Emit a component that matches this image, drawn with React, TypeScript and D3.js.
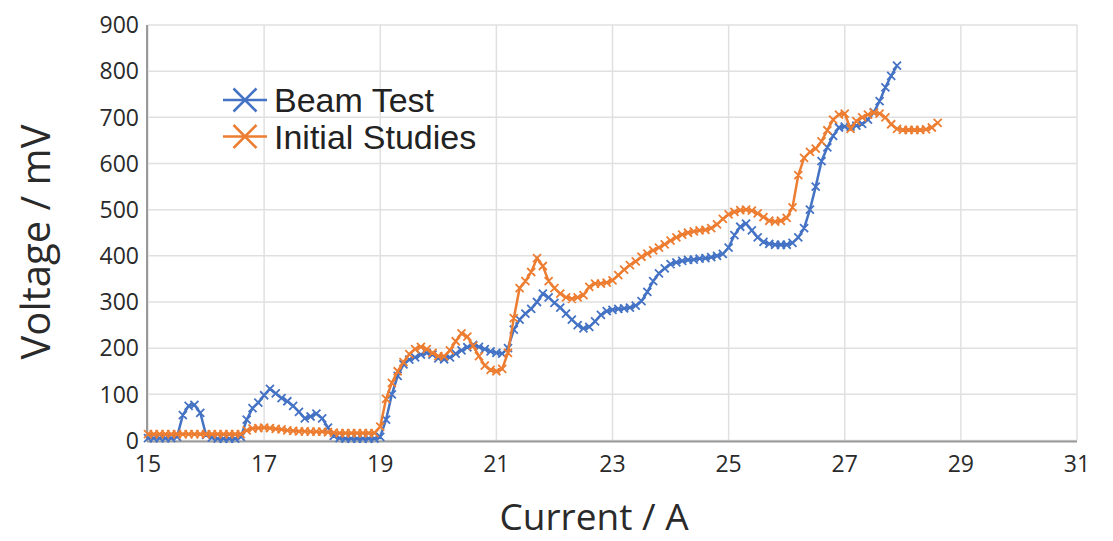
import React from "react";
import * as d3 from "d3";

const X_START = 15.0;
const X_STEP = 0.1;

// Beam Test voltages (mV), sampled every 0.1 A from 15.0 A
const beamTest: number[] = [
  5, 5, 5, 5, 5, 8, 55, 75, 77, 60,
  12, 6, 4, 4, 4, 4, 8, 45, 70, 82,
  98, 112, 102, 92, 85, 75, 62, 48, 52, 58,
  48, 28, 10, 5, 4, 4, 4, 4, 4, 4,
  8, 45, 100, 140, 165, 175, 180, 186, 190, 186,
  178, 176, 180, 188, 195, 202, 207, 203, 198, 193,
  190, 188, 200, 240, 262, 275, 285, 300, 318, 310,
  298, 288, 275, 262, 250, 243, 246, 258, 272, 280,
  283, 285, 286, 288, 292, 302, 322, 345, 362, 373,
  382, 386, 389, 391, 392, 394, 395, 397, 400, 404,
  418, 445, 463, 470, 455, 440, 430, 426, 424, 424,
  424, 428, 440, 460, 500, 550, 605, 635, 660, 678,
  680, 680, 682, 686, 695, 711, 735, 765, 790, 812,
];

// Initial Studies voltages (mV), sampled every 0.1 A from 15.0 A
const initialStudies: number[] = [
  14, 14, 14, 14, 14, 14, 14, 14, 14, 14,
  14, 14, 14, 14, 14, 14, 14, 22, 26, 27,
  28, 27, 25, 24, 22, 21, 20, 20, 19, 19,
  19, 18, 17, 16, 16, 16, 16, 16, 16, 16,
  30, 90, 125, 150, 170, 187, 198, 203, 198, 190,
  183, 182, 195, 215, 232, 225, 205, 183, 162, 153,
  150, 155, 190, 265, 330, 345, 365, 395, 378, 345,
  330, 318, 310, 307, 310, 315, 333, 340, 340, 342,
  347, 358, 370, 380, 388, 398, 405, 412, 418, 425,
  433, 440, 446, 450, 453, 455, 456, 460, 468, 480,
  490, 495, 499, 500, 498, 492, 484, 476, 474, 476,
  482, 505, 575, 612, 625, 632, 648, 672, 695, 706,
  708, 675, 692, 700, 706, 710, 708, 700, 685, 675,
  673, 673, 673, 673, 674, 678, 688,
];

const xTicks = [15, 17, 19, 21, 23, 25, 27, 29, 31];
const yTicks = [0, 100, 200, 300, 400, 500, 600, 700, 800, 900];

const seriesNames = ["Beam Test", "Initial Studies"];
const seriesColors = ["#4472c4", "#ed7d31"];

const W = 1113;
const H = 541;
const plot = { left: 148, right: 1077, top: 25, bottom: 440.5 };

function toPoints(values: number[]) {
  return values.map((v, i) => ({ x: +(X_START + i * X_STEP).toFixed(1), y: v }));
}

function xPath(cx: number, cy: number, s: number) {
  return `M${cx - s},${cy - s}L${cx + s},${cy + s}M${cx - s},${cy + s}L${cx + s},${cy - s}`;
}

export default function App() {
  const x = d3.scaleLinear().domain([15, 31]).range([plot.left, plot.right]);
  const y = d3.scaleLinear().domain([0, 900]).range([plot.bottom, plot.top]);
  const line = d3
    .line<{ x: number; y: number }>()
    .x((d) => x(d.x))
    .y((d) => y(d.y));

  const series = [beamTest, initialStudies].map(toPoints);
  const tickFont = "'Open Sans', 'DejaVu Sans', sans-serif";

  return (
    <div style={{ position: "fixed", left: 0, top: 0 }}>
      <svg width={W} height={H} style={{ display: "block", background: "#fff" }}>
        {/* grid */}
        {yTicks.map((t) => (
          <line key={"gy" + t} x1={plot.left} x2={plot.right} y1={y(t)} y2={y(t)} stroke="#e0e0e0" strokeWidth={1.5} />
        ))}
        {xTicks.map((t) => (
          <line key={"gx" + t} x1={x(t)} x2={x(t)} y1={plot.top} y2={plot.bottom} stroke="#e0e0e0" strokeWidth={1.5} />
        ))}
        {/* axes */}
        <line x1={plot.left - 1} x2={plot.left - 1} y1={plot.top} y2={plot.bottom + 1} stroke="#9a9a9a" strokeWidth={2} />
        <line x1={plot.left - 1} x2={plot.right} y1={plot.bottom + 1} y2={plot.bottom + 1} stroke="#9a9a9a" strokeWidth={2} />
        {/* tick labels */}
        {yTicks.map((t) => (
          <text key={"ly" + t} x={139} y={y(t)} dy="0.36em" textAnchor="end" fontSize={23} fontFamily={tickFont} fill="#2a2a2a">
            {t}
          </text>
        ))}
        {xTicks.map((t) => (
          <text key={"lx" + t} x={x(t)} y={472} textAnchor="middle" fontSize={23} fontFamily={tickFont} fill="#2a2a2a">
            {t}
          </text>
        ))}
        {/* axis titles */}
        <text
          transform={`translate(50,${242}) rotate(-90)`}
          textAnchor="middle"
          fontSize={40}
          fontFamily={tickFont}
          fill="#2a2a2a"
        >
          Voltage / mV
        </text>
        <text x={594} y={530} textAnchor="middle" fontSize={37} fontFamily={tickFont} fill="#2a2a2a">
          Current / A
        </text>
        {/* series */}
        {series.map((pts, si) => (
          <g key={"s" + si}>
            <path d={line(pts) || ""} fill="none" stroke={seriesColors[si]} strokeWidth={2.5} />
            <path
              d={pts.map((p) => xPath(x(p.x), y(p.y), 4)).join("")}
              fill="none"
              stroke={seriesColors[si]}
              strokeWidth={1.8}
            />
          </g>
        ))}
        {/* legend */}
        {seriesNames.map((name, i) => {
          const ly = 100 + i * 36.5;
          return (
            <g key={"lg" + i}>
              <line x1={223} x2={267} y1={ly} y2={ly} stroke={seriesColors[i]} strokeWidth={2.5} />
              <path d={xPath(245, ly, 11.5)} stroke={seriesColors[i]} strokeWidth={2.5} fill="none" />
              <text x={274} y={ly} dy="0.36em" fontSize={34} fontFamily="'Liberation Sans', Arial, sans-serif" fill="#222">
                {name}
              </text>
            </g>
          );
        })}
      </svg>
    </div>
  );
}
